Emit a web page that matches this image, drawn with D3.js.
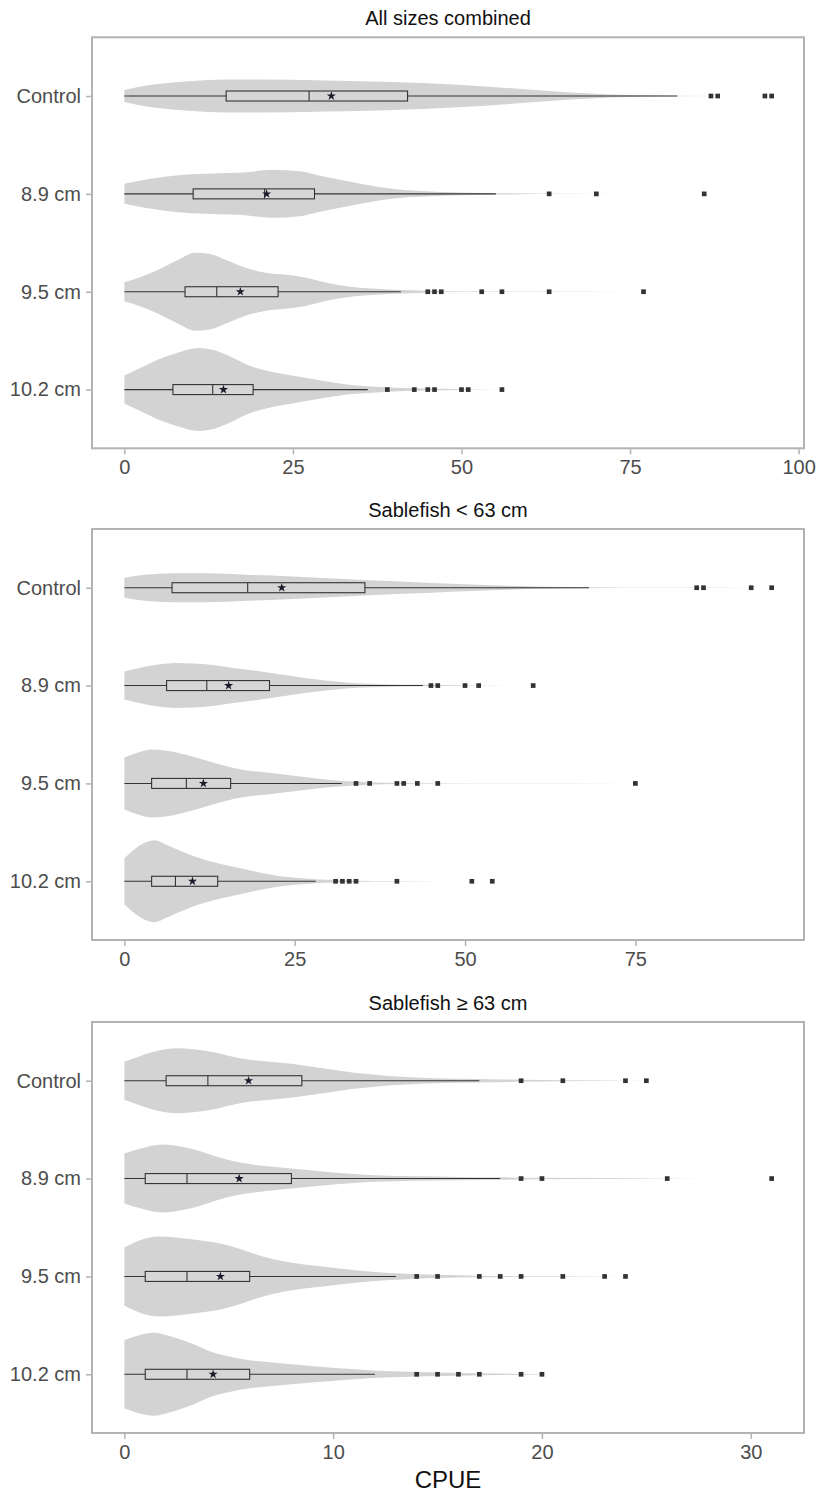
<!DOCTYPE html>
<html>
<head>
<meta charset="utf-8">
<script src="https://cdn.jsdelivr.net/npm/d3@7"></script>
<style>
  body { margin: 0; background: #fff; }
  text { font-family: "Liberation Sans", Arial, sans-serif; }
</style>
</head>
<body>
<svg id="chart"></svg>
<script>
// ── Data ─────────────────────────────────────────────────────────────────────
const groups = ['Control', '8.9 cm', '9.5 cm', '10.2 cm'];
const titles = ['All sizes combined', 'Sablefish < 63 cm', 'Sablefish \u2265 63 cm'];
const xTicks = [[0, 25, 50, 75, 100], [0, 25, 50, 75], [0, 10, 20, 30]];

// box stats per group: [min, q1, median, mean, q3, upper whisker]
const boxAll   = [[0, 15.1, 27.4, 30.7, 42.0, 82.0], [0, 10.2, 20.8, 21.1, 28.2, 55.1],
                  [0, 9.0, 13.7, 17.2, 22.8, 41.0],  [0, 7.2, 13.1, 14.7, 19.1, 36.1]];
const boxSmall = [[0, 7.0, 18.1, 23.1, 35.3, 68.2],  [0, 6.2, 12.1, 15.3, 21.3, 43.8],
                  [0, 4.0, 9.1, 11.6, 15.6, 31.9],   [0, 4.0, 7.5, 10.0, 13.7, 28.1]];
const boxLarge = [[0, 2, 4, 5.95, 8.5, 17],          [0, 1, 3, 5.5, 8, 18],
                  [0, 1, 3, 4.6, 6, 13],             [0, 1, 3, 4.25, 6, 12]];

const outAll   = [[87, 88, 95, 96], [63, 70, 86], [45, 46, 47, 53, 56, 63, 77], [39, 43, 45, 46, 50, 51, 56]];
const outSmall = [[84, 85, 92, 95], [45, 46, 50, 52, 60], [34, 36, 40, 41, 43, 46, 75], [31, 32, 33, 34, 40, 51, 54]];
const outLarge = [[19, 21, 24, 25], [19, 20, 26, 31], [14, 15, 17, 18, 19, 21, 23, 24], [14, 15, 16, 17, 19, 20]];

// violin density profiles: [CPUE, relative density]
const violinAll = [
  [[0,.12],[2,.18],[5,.24],[10,.30],[15,.33],[20,.33],[30,.31],[40,.28],[50,.22],[58,.15],[66,.07],[72,.03],[82,.006],[96,0]],
  [[0,.20],[3,.28],[6,.34],[10,.39],[14,.41],[17,.42],[22,.48],[26,.45],[29,.36],[32,.28],[35,.20],[38,.13],[42,.07],[47,.036],[55,.014],[65,.004],[86,0]],
  [[0,.19],[2.5,.30],[5,.44],[8,.64],[10.5,.78],[12.5,.76],[15,.64],[18,.48],[21,.38],[24,.34],[27,.28],[30,.18],[33,.11],[36,.07],[40,.04],[45,.02],[50,.006],[77,0]],
  [[0,.28],[2.5,.44],[5,.60],[8,.74],[11,.83],[13.5,.78],[16,.64],[18.5,.48],[21,.38],[24,.30],[27,.23],[30,.16],[33,.10],[36,.066],[40,.036],[45,.02],[50,.008],[56,0]]
];
const violinSmall = [
  [[0,.20],[3,.26],[7,.29],[12,.29],[18,.26],[24,.23],[30,.19],[36,.15],[42,.116],[48,.08],[54,.05],[60,.026],[68,.01],[80,.003],[95,0]],
  [[0,.28],[2.5,.36],[5,.42],[7.5,.45],[10,.44],[13,.41],[16,.35],[19,.30],[22,.24],[25,.18],[28,.126],[31,.08],[34,.046],[38,.028],[44,.014],[50,.004],[60,0]],
  [[0,.52],[2,.62],[4,.68],[6,.66],[8,.61],[10,.54],[12,.46],[14,.38],[16,.31],[18,.26],[21,.22],[24,.17],[27,.12],[30,.076],[33,.044],[36,.026],[40,.012],[46,.004],[75,0]],
  [[0,.46],[1.5,.64],[3,.77],[4.5,.82],[6,.74],[8,.62],[10,.51],[12,.42],[14,.35],[16,.29],[18,.23],[20,.17],[22,.12],[24,.084],[26,.06],[28,.04],[31,.024],[34,.012],[40,.004],[54,0]]
];
const violinLarge = [
  [[0,.38],[0.8,.50],[1.6,.60],[2.5,.65],[3.3,.63],[4.3,.57],[5.2,.48],[6,.42],[7,.38],[8,.34],[9,.28],[10,.22],[11,.16],[12,.12],[13,.086],[14.5,.056],[16,.04],[17.5,.03],[19,.02],[21,.01],[25,0]],
  [[0,.50],[0.8,.60],[1.8,.68],[2.8,.63],[3.6,.55],[4.4,.44],[5.2,.35],[6,.29],[7,.24],[8,.20],[9,.16],[10,.12],[11,.09],[12,.066],[14,.044],[16,.032],[18,.024],[20,.014],[26,.003],[31,0]],
  [[0,.58],[0.6,.70],[1.6,.80],[2.5,.78],[3.3,.74],[4.2,.69],[5,.62],[5.7,.53],[6.4,.43],[7.1,.35],[7.8,.29],[8.6,.24],[9.5,.20],[10.3,.16],[11.2,.12],[12,.09],[13,.064],[14,.046],[15,.032],[17,.016],[19,.008],[24,0]],
  [[0,.68],[0.7,.78],[1.4,.83],[2.2,.76],[3.2,.62],[4.3,.43],[5.2,.34],[6,.28],[7,.24],[8,.20],[9.4,.15],[10.5,.114],[11.5,.084],[12.8,.06],[14.5,.04],[16,.028],[18,.014],[20,.004]]
];

const boxes    = [boxAll, boxSmall, boxLarge];
const outliers = [outAll, outSmall, outLarge];
const violins  = [violinAll, violinSmall, violinLarge];

// ── Layout ───────────────────────────────────────────────────────────────────
const W = 817, Ht = 1492;
const L = 92, R = 804, PH = 411;
const panelTops = [37.3, 529, 1022];
const BORDER = '#b3b3b3', INK = '#333333';

const svg = d3.select('#chart').attr('width', W).attr('height', Ht);
svg.append('rect').attr('width', W).attr('height', Ht).attr('fill', '#fff');

const widthScale = d3.scaleLinear().domain([0, 1]).range([0, 50]);

function drawPanel(i) {
  const top = panelTops[i];
  const box = boxes[i], outs = outliers[i], viol = violins[i];

  // ggplot-style 5% expansion around the data range
  const maxV = d3.max(outs.flat().concat(box.map(b => b[5])));
  const x = d3.scaleLinear().domain([-0.05 * maxV, 1.05 * maxV]).range([L, R]);
  const y = d3.scalePoint().domain(groups).range([top, top + PH]).padding(0.6);

  const g = svg.append('g');

  // ── Title ─────────────────────────────────────────────────────────────
  g.append('text')
    .attr('x', (L + R) / 2).attr('y', top - 12.3)
    .attr('text-anchor', 'middle').attr('font-size', 20).attr('fill', '#111')
    .text(titles[i]);

  // ── Violins ───────────────────────────────────────────────────────────
  groups.forEach((grp, k) => {
    const cy = y(grp);
    const area = d3.area()
      .x(d => x(d[0]))
      .y0(d => cy - widthScale(d[1]))
      .y1(d => cy + widthScale(d[1]))
      .curve(d3.curveMonotoneX);
    g.append('path').datum(viol[k])
      .attr('d', area)
      .attr('fill', '#d3d3d3');
  });

  // ── Box plots ─────────────────────────────────────────────────────────
  groups.forEach((grp, k) => {
    const cy = y(grp);
    const [mn, q1, med, mean, q3, hi] = box[k];
    g.append('line')
      .attr('x1', x(mn)).attr('x2', x(hi)).attr('y1', cy).attr('y2', cy)
      .attr('stroke', INK).attr('stroke-width', 1.1);
    g.append('rect')
      .attr('x', x(q1)).attr('y', cy - 5)
      .attr('width', x(q3) - x(q1)).attr('height', 10)
      .attr('fill', '#d6d6d6').attr('stroke', INK).attr('stroke-width', 1.1);
    g.append('line')
      .attr('x1', x(med)).attr('x2', x(med)).attr('y1', cy - 5).attr('y2', cy + 5)
      .attr('stroke', INK).attr('stroke-width', 1.1);

    g.selectAll(null).data(outs[k]).join('path')
      .attr('d', d3.symbol(d3.symbolSquare).size(22))
      .attr('transform', d => `translate(${x(d)},${cy})`)
      .attr('fill', INK);

    g.append('path')
      .attr('d', d3.symbol(d3.symbolStar).size(26))
      .attr('transform', `translate(${x(mean)},${cy})`)
      .attr('fill', '#1a1a2a');
  });

  // ── Frame ─────────────────────────────────────────────────────────────
  g.append('rect')
    .attr('x', L).attr('y', top).attr('width', R - L).attr('height', PH)
    .attr('fill', 'none').attr('stroke', BORDER).attr('stroke-width', 2);

  // ── Axes ──────────────────────────────────────────────────────────────
  const yAxis = g.append('g').attr('transform', `translate(${L - 1},0)`)
    .call(d3.axisLeft(y).tickSize(5).tickPadding(5));
  const xAxis = g.append('g').attr('transform', `translate(0,${top + PH + 1})`)
    .call(d3.axisBottom(x).tickValues(xTicks[i]).tickSize(5).tickPadding(6).tickFormat(d3.format('d')));

  [yAxis, xAxis].forEach(ax => {
    ax.select('.domain').remove();
    ax.selectAll('.tick line').attr('stroke', BORDER).attr('stroke-width', 1.5);
    ax.selectAll('.tick text')
      .attr('font-size', 20).attr('fill', '#4d4d4d')
      .attr('font-family', '"Liberation Sans", Arial, sans-serif');
  });
}

[0, 1, 2].forEach(drawPanel);

// ── Axis title ────────────────────────────────────────────────────────────
svg.append('text')
  .attr('x', (L + R) / 2).attr('y', 1488)
  .attr('text-anchor', 'middle').attr('font-size', 24).attr('fill', '#111')
  .text('CPUE');
</script>
</body>
</html>
